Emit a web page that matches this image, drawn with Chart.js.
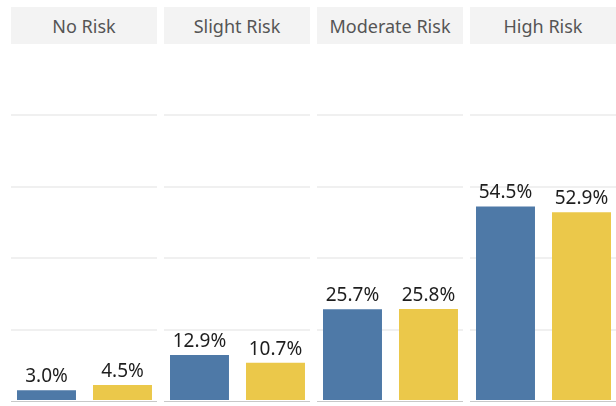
<!DOCTYPE html>
<html>
<head>
<meta charset="utf-8">
<script src="https://cdn.jsdelivr.net/npm/chart.js@4.4.0/dist/chart.umd.min.js"></script>
<style>
  html, body { margin: 0; padding: 0; background: #fff; }
  #wrap { position: relative; width: 616px; height: 406px; overflow: hidden; font-family: "Noto Sans", sans-serif; }
  .panel { position: absolute; top: 0; width: 146px; height: 406px; }
  .head { position: absolute; top: 7px; left: 0; width: 146px; height: 37px; background: #f3f3f3;
          color: #555; font-size: 18px; line-height: 39px; text-align: center; }
  .box { position: absolute; top: 44px; left: 0; width: 146px; height: 362px; }
</style>
</head>
<body>
<div id="wrap"></div>
<script>
// Risk level panels, two bars each (blue series, yellow series)
const categories = ['No Risk', 'Slight Risk', 'Moderate Risk', 'High Risk'];
const seriesNames = ['Series A', 'Series B'];
const seriesA = [3.0, 12.9, 25.7, 54.5];
const seriesB = [4.5, 10.7, 25.8, 52.9];
const gridTicks = [0, 20, 40, 60, 80, 100];

const colors = ['#4e79a7', '#ebc84a'];
const panelLeft = [11, 164, 317, 470];

// draws the value above each bar
const valueLabels = {
    id: 'valueLabels',
    afterDatasetsDraw(chart) {
        const ctx = chart.ctx;
        const meta = chart.getDatasetMeta(0);
        ctx.save();
        ctx.font = '19px "Noto Sans", sans-serif';
        ctx.fillStyle = '#1e1e1e';
        ctx.textAlign = 'center';
        ctx.textBaseline = 'alphabetic';
        meta.data.forEach((bar, i) => {
            const v = chart.data.datasets[0].data[i].y;
            ctx.fillText(v.toFixed(1) + '%', bar.x, bar.y - 8);
        });
        ctx.restore();
    }
};

const wrap = document.getElementById('wrap');

categories.forEach((cat, idx) => {
    const panel = document.createElement('div');
    panel.className = 'panel';
    panel.style.left = panelLeft[idx] + 'px';
    panel.innerHTML = '<div class="head"></div><div class="box"><canvas></canvas></div>';
    panel.querySelector('.head').textContent = cat;
    wrap.appendChild(panel);

    const ctx = panel.querySelector('canvas').getContext('2d');
    new Chart(ctx, {
        type: 'bar',
        data: {
            datasets: [{
                label: cat,
                data: [
                    { x: 0, y: seriesA[idx], name: seriesNames[0] },
                    { x: 1, y: seriesB[idx], name: seriesNames[1] }
                ],
                backgroundColor: colors,
                barPercentage: 0.776,
                categoryPercentage: 1
            }]
        },
        options: {
            responsive: true,
            maintainAspectRatio: false,
            animation: false,
            layout: { padding: { left: 0, right: 0, top: 0, bottom: 5 } },
            plugins: { legend: { display: false }, tooltip: { enabled: false } },
            scales: {
                x: {
                    type: 'linear',
                    min: -0.467,
                    max: 1.454,
                    offset: false,
                    ticks: { display: false },
                    grid: { display: false, drawTicks: false },
                    border: { display: true, color: '#c8c8c8', dash: [2, 2], width: 1 }
                },
                y: {
                    min: 0,
                    max: 100,
                    afterBuildTicks: axis => { axis.ticks = gridTicks.map(v => ({ value: v })); },
                    ticks: { display: false },
                    grid: {
                        drawTicks: false,
                        lineWidth: 2,
                        color: c => (c.tick && (c.tick.value === 0 || c.tick.value === 100)) ? 'rgba(0,0,0,0)' : '#f0f0f0'
                    },
                    border: { display: false }
                }
            }
        },
        plugins: [valueLabels]
    });
});
</script>
</body>
</html>
